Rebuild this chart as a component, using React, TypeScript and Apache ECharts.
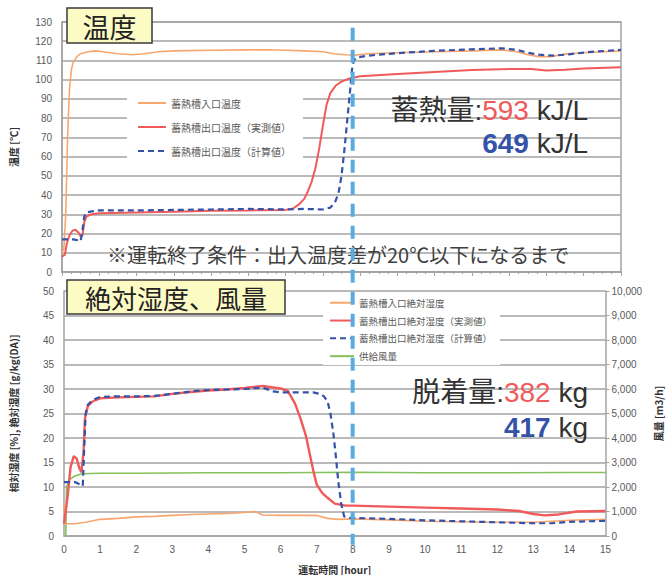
import React, { useEffect, useRef } from "react";
import * as echarts from "echarts";

type P = [number, number];

const LEGEND_TOP = ["蓄熱槽入口温度", "蓄熱槽出口温度（実測値）", "蓄熱槽出口温度（計算値）"];
const LEGEND_BOTTOM = ["蓄熱槽入口絶対湿度", "蓄熱槽出口絶対湿度（実測値）", "蓄熱槽出口絶対湿度（計算値）", "供給風量"];

const END_TIME = 7.8;

const tempInlet: P[] = [
  [0, 10], [0.05, 12], [0.1, 30], [0.15, 70], [0.2, 95], [0.25, 105], [0.3, 109], [0.4, 112],
  [0.5, 113.5], [0.7, 114.5], [0.9, 115], [1.1, 114.5], [1.5, 113.5], [1.9, 113], [2.2, 113.5],
  [2.6, 114.5], [3, 115], [4, 115.3], [5, 115.5], [5.5, 115.6], [6, 115.3], [6.5, 115], [7, 114.5],
  [7.3, 113.5], [7.6, 113], [7.9, 112.8], [8.2, 113.5], [9, 114], [10, 114.5], [11, 115], [11.8, 115.5],
  [12.2, 114.5], [12.5, 113], [12.8, 112], [13.1, 112], [13.5, 113.3], [14, 114], [14.5, 114.5], [15, 115],
];

const tempOutletMeasured: P[] = [
  [0, 8], [0.08, 9], [0.13, 15], [0.2, 19], [0.28, 21.5], [0.36, 22], [0.44, 20.5], [0.5, 18.5],
  [0.55, 19], [0.6, 26], [0.66, 29], [0.8, 30], [1, 30.5], [2, 31], [3, 31.3], [4, 31.8], [5, 32],
  [6, 32.3], [6.2, 33], [6.35, 35], [6.5, 38], [6.6, 42], [6.7, 47], [6.8, 54], [6.9, 64], [7, 76],
  [7.1, 87], [7.2, 93], [7.35, 97], [7.5, 99], [7.7, 100.5], [8, 101.8], [9, 103], [10, 104], [11, 105],
  [12, 105.5], [12.6, 105.5], [13, 104.8], [13.5, 105.2], [14, 105.8], [15, 106.5],
];

const tempOutletCalc: P[] = [
  [0, 17], [0.3, 17], [0.42, 16.5], [0.5, 16], [0.55, 22], [0.6, 29], [0.66, 31], [0.8, 31.5], [1, 32],
  [2, 32], [3, 32.3], [4, 32.5], [5, 32.8], [6, 32.5], [6.5, 32.8], [7, 32.5], [7.2, 33.5], [7.32, 36],
  [7.42, 41], [7.5, 50], [7.57, 62], [7.65, 78], [7.72, 92], [7.78, 105], [7.83, 110], [7.9, 111.5],
  [8.2, 112.5], [9, 113.8], [10, 115], [11, 115.8], [11.8, 116.3], [12.2, 115.5], [12.5, 114], [12.8, 113],
  [13.2, 112.5], [13.6, 113.2], [14.2, 114.5], [15, 115.5],
];

const absInlet: P[] = [
  [0, 6.5], [0.03, 2.5], [0.3, 2.5], [0.6, 2.8], [1, 3.4], [1.5, 3.6], [2, 3.9], [2.5, 4], [3, 4.2],
  [3.5, 4.4], [4, 4.5], [4.5, 4.6], [5, 4.8], [5.3, 5], [5.5, 4.3], [6, 4.2], [6.5, 4.2], [7, 4.2],
  [7.3, 3.6], [7.6, 3.4], [8, 3.5], [9, 3.3], [10, 3.0], [11, 2.9], [12, 2.8], [13, 2.8], [14, 3.2], [15, 3.4],
];

const absOutletMeasured: P[] = [
  [0, 2.5], [0.1, 8], [0.18, 14], [0.27, 16.3], [0.35, 15.8], [0.42, 14], [0.48, 13], [0.54, 17],
  [0.58, 24], [0.66, 26.5], [0.8, 27.5], [1, 28.1], [1.5, 28.3], [2, 28.4], [2.5, 28.5], [3, 29],
  [3.5, 29.4], [4, 29.7], [4.5, 29.9], [5, 30.2], [5.5, 30.6], [6, 30.1], [6.2, 29.6], [6.4, 27],
  [6.55, 24], [6.7, 20.5], [6.8, 17], [6.9, 13.5], [7, 10.5], [7.15, 8.8], [7.3, 7.8], [7.5, 6.6],
  [7.8, 6.2], [8, 6.2], [9, 6], [10, 5.8], [11, 5.6], [12, 5.4], [12.6, 5.1], [13, 4.5], [13.3, 4.2],
  [13.7, 4.4], [14.2, 5], [15, 5.1],
];

const absOutletCalc: P[] = [
  [0, 11], [0.3, 11], [0.45, 10.5], [0.52, 10.2], [0.56, 18], [0.6, 25], [0.66, 26.8], [0.8, 27.8],
  [1, 28.4], [1.5, 28.5], [2, 28.5], [2.5, 28.6], [3, 29], [3.5, 29.5], [4, 29.8], [4.5, 29.9], [5, 30],
  [5.5, 30.3], [5.8, 29.5], [6, 29.3], [6.5, 29.3], [6.9, 29.3], [7.1, 29], [7.2, 28.5], [7.3, 27.5],
  [7.38, 25], [7.46, 21], [7.52, 17], [7.6, 11], [7.68, 6.5], [7.76, 4], [7.9, 3.7], [8.5, 3.6], [9, 3.5],
  [10, 3.2], [11, 3], [12, 2.8], [13, 2.6], [13.5, 2.6], [14, 2.9], [15, 3.1],
];

const airflow: P[] = [
  [0, 0], [0.05, 0], [0.07, 2000], [0.15, 2300], [0.3, 2450], [0.5, 2540], [1, 2560], [2, 2560],
  [4, 2580], [6, 2580], [8, 2600], [10, 2580], [12, 2580], [14, 2590], [15, 2590],
];

const JP = '"Noto Sans CJK JP", "Noto Sans", sans-serif';
const NUM = '"Liberation Sans", "Noto Sans CJK JP", sans-serif';
const GRID_LINE = { lineStyle: { color: "#a3a3a3", width: 1.5 } };
const LABEL = { color: "#595959", fontSize: 10, fontFamily: NUM };
const NAME_STYLE = { color: "#333", fontSize: 10, fontWeight: "bold" as const, fontFamily: JP };

const C_ORANGE = "#F9A66E";
const C_RED = "#F05A5A";
const C_BLUE = "#3452A8";
const C_GREEN = "#86C15B";

export default function App() {
  const ref = useRef<HTMLDivElement>(null);
  useEffect(() => {
    document.body.style.margin = "0";
    if (!ref.current) return;
    const chart = echarts.init(ref.current, null, { renderer: "svg" });
    const line = (name: string, data: P[], color: string, width: number, xi: number, yi: number, dashed = false, z = 2) => ({
      type: "line", name, data, xAxisIndex: xi, yAxisIndex: yi, symbol: "none", z,
      lineStyle: { color, width, type: dashed ? [6, 4] : "solid" },
      itemStyle: { color },
    });
    chart.setOption({
      animation: false,
      backgroundColor: "#fff",
      textStyle: { fontFamily: JP },
      grid: [
        { left: 61, top: 22, width: 560, height: 250, show: true, borderColor: "#a3a3a3", borderWidth: 1.5 },
        { left: 61, top: 291, width: 560, height: 248 },
      ],
      xAxis: [
        {
          type: "value", gridIndex: 0, min: 0, max: 15, interval: 1,
          axisLabel: { show: false }, splitLine: { show: false },
          axisLine: { lineStyle: { color: "#a3a3a3", width: 1.5 } },
          axisTick: { show: true, length: 4, lineStyle: { color: "#a3a3a3" } },
          minorTick: { show: true, splitNumber: 4, length: 2, lineStyle: { color: "#a3a3a3" } },
        },
        {
          type: "value", gridIndex: 1, min: 0, max: 15, interval: 1,
          name: "運転時間 [hour]", nameLocation: "middle", nameGap: 28, nameTextStyle: NAME_STYLE,
          axisLabel: { ...LABEL, margin: 8 }, splitLine: { show: false },
          axisLine: { lineStyle: { color: "#a3a3a3", width: 1.5 } },
          axisTick: { show: false },
        },
      ],
      yAxis: [
        {
          type: "value", gridIndex: 0, min: 0, max: 130, interval: 10,
          name: "温度 [℃]", nameLocation: "middle", nameGap: 44, nameRotate: 90, nameTextStyle: NAME_STYLE,
          axisLabel: { ...LABEL, margin: 10 }, splitLine: GRID_LINE,
          axisLine: { show: true, lineStyle: { color: "#a3a3a3", width: 1.5 } }, axisTick: { show: false },
        },
        {
          type: "value", gridIndex: 1, min: 0, max: 50, interval: 5,
          name: "相対湿度 [%], 絶対湿度 [g/kg(DA)]", nameLocation: "middle", nameGap: 46, nameRotate: 90,
          nameTextStyle: NAME_STYLE,
          axisLabel: { ...LABEL, margin: 10 }, splitLine: GRID_LINE,
          axisLine: { show: true, lineStyle: { color: "#a3a3a3", width: 1.5 } }, axisTick: { show: false },
        },
        {
          type: "value", gridIndex: 1, min: 0, max: 10000, interval: 1000, position: "right",
          name: "風量 [m3/h]", nameLocation: "middle", nameGap: 46, nameRotate: 90, nameTextStyle: NAME_STYLE,
          axisLabel: { ...LABEL, margin: 6, formatter: (v: number) => v.toLocaleString("en-US") },
          splitLine: { show: false },
          axisLine: { show: true, lineStyle: { color: "#a3a3a3", width: 1.5 } },
          axisTick: { show: true, length: 4, lineStyle: { color: "#a3a3a3" } },
        },
      ],
      legend: [
        {
          data: LEGEND_TOP, orient: "vertical", left: 127, top: 92, padding: [6, 12, 6, 10],
          itemWidth: 28, itemHeight: 10, itemGap: 14, backgroundColor: "#fff",
          itemStyle: { opacity: 0, borderWidth: 0 },
          textStyle: { color: "#595959", fontSize: 10, fontFamily: JP },
        },
        {
          data: LEGEND_BOTTOM, orient: "vertical", left: 323, top: 294, padding: [4, 8, 4, 6],
          itemWidth: 24, itemHeight: 10, itemGap: 8.3, backgroundColor: "#fff",
          itemStyle: { opacity: 0, borderWidth: 0 },
          textStyle: { color: "#595959", fontSize: 9.5, fontFamily: JP },
        },
      ],
      series: [
        line(LEGEND_TOP[0], tempInlet, C_ORANGE, 1.6, 0, 0),
        line(LEGEND_TOP[1], tempOutletMeasured, C_RED, 2, 0, 0),
        line(LEGEND_TOP[2], tempOutletCalc, C_BLUE, 2.2, 0, 0, true, 3),
        line(LEGEND_BOTTOM[3], airflow, C_GREEN, 1.6, 1, 2),
        line(LEGEND_BOTTOM[0], absInlet, C_ORANGE, 1.6, 1, 1),
        line(LEGEND_BOTTOM[1], absOutletMeasured, C_RED, 2.4, 1, 1),
        line(LEGEND_BOTTOM[2], absOutletCalc, C_BLUE, 2.2, 1, 1, true, 3),
      ],
      graphic: [
        { id: "box1", type: "rect", z: 50, shape: { x: 67, y: 8, width: 85, height: 35 }, style: { fill: "#FDFBC4", stroke: "#3a3a3a", lineWidth: 1.5 } },
        { id: "box1t", type: "text", z: 51, x: 109.5, y: 26, style: { text: "温度", fill: "#222", fontSize: 27, fontFamily: JP, align: "center", verticalAlign: "middle" } },
        { id: "box2", type: "rect", z: 50, shape: { x: 67, y: 280, width: 218, height: 34 }, style: { fill: "#FDFBC4", stroke: "#3a3a3a", lineWidth: 1.5 } },
        { id: "box2t", type: "text", z: 51, x: 176, y: 297.5, style: { text: "絶対湿度、風量", fill: "#222", fontSize: 26, fontFamily: JP, align: "center", verticalAlign: "middle" } },
        { id: "note", type: "text", z: 40, x: 107, y: 254, style: { text: "※運転終了条件：出入温度差が20℃以下になるまで", fill: "#404040", fontSize: 20, fontFamily: JP, align: "left", verticalAlign: "middle" } },
        {
          id: "heat1", type: "text", z: 40, x: 588, y: 110,
          style: {
            text: "{k|蓄熱量:}{r|593}{k| kJ/L}", align: "right", verticalAlign: "middle",
            rich: { k: { fontSize: 28, fill: "#333", fontFamily: NUM }, r: { fontSize: 28, fill: C_RED, fontFamily: NUM } },
          },
        },
        {
          id: "heat2", type: "text", z: 40, x: 588, y: 143,
          style: {
            text: "{b|649}{k| kJ/L}", align: "right", verticalAlign: "middle",
            rich: { k: { fontSize: 28, fill: "#333", fontFamily: NUM }, b: { fontSize: 28, fill: C_BLUE, fontFamily: NUM, fontWeight: "bold" } },
          },
        },
        {
          id: "des1", type: "text", z: 40, x: 588, y: 392,
          style: {
            text: "{k|脱着量:}{r|382}{k| kg}", align: "right", verticalAlign: "middle",
            rich: { k: { fontSize: 28, fill: "#333", fontFamily: NUM }, r: { fontSize: 28, fill: C_RED, fontFamily: NUM } },
          },
        },
        {
          id: "des2", type: "text", z: 40, x: 588, y: 427,
          style: {
            text: "{b|417}{k| kg}", align: "right", verticalAlign: "middle",
            rich: { k: { fontSize: 28, fill: "#333", fontFamily: NUM }, b: { fontSize: 28, fill: C_BLUE, fontFamily: NUM, fontWeight: "bold" } },
          },
        },
      ],
    });
    const px = chart.convertToPixel({ xAxisIndex: 0 } as any, END_TIME) as unknown as number;
    const yTop = chart.convertToPixel({ yAxisIndex: 0 } as any, 127) as unknown as number;
    const yBot = chart.convertToPixel({ yAxisIndex: 1 } as any, -1.8) as unknown as number;
    chart.setOption({
      graphic: [
        {
          id: "endline", type: "line", z: 100,
          shape: { x1: px, y1: yTop, x2: px, y2: yBot },
          style: { stroke: "#5AACE0", lineWidth: 4, lineDash: [13, 9] },
        },
      ],
    });
    return () => chart.dispose();
  }, []);
  return <div ref={ref} style={{ width: 671, height: 575 }} />;
}
